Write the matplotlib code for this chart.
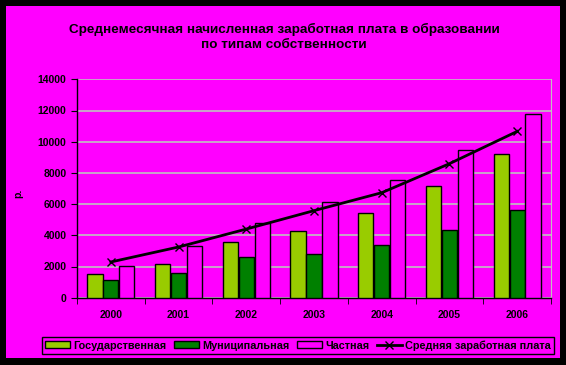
import numpy as np
import matplotlib.pyplot as plt
from matplotlib.patches import Rectangle

years = ["2000", "2001", "2002", "2003", "2004", "2005", "2006"]
gos = [1500, 2180, 3550, 4260, 5400, 7180, 9230]
mun = [1115, 1560, 2590, 2780, 3410, 4360, 5640]
chast = [2050, 3290, 4770, 6150, 7560, 9490, 11790]
srednyaya = [2290, 3250, 4400, 5580, 6730, 8590, 10660]

plt.rcParams["font.family"] = ["Liberation Sans", "DejaVu Sans"]
plt.rcParams["font.weight"] = "bold"

magenta = "#FF00FF"

fig = plt.figure(figsize=(5.66, 3.65), dpi=100)
fig.patch.set_facecolor("black")
fig.patches.append(Rectangle((6 / 566, 1 - 358 / 365), 554 / 566, 352 / 365,
                             transform=fig.transFigure, facecolor=magenta,
                             edgecolor="none", zorder=-10))

ax = fig.add_axes([77 / 566, 1 - 297.7 / 365, 474 / 566, 218.4 / 365])
ax.set_facecolor(magenta)

x = np.arange(len(years))
w = 0.225
b1 = ax.bar(x - w - 0.01, gos, w, color="#99CC00", edgecolor="black", linewidth=1,
            label="Государственная", zorder=3)
b2 = ax.bar(x, mun, w, color="#008000", edgecolor="black", linewidth=1,
            label="Муниципальная", zorder=3)
b3 = ax.bar(x + w + 0.01, chast, w, color=magenta, edgecolor="black", linewidth=1,
            label="Частная", zorder=3)
l1, = ax.plot(x, srednyaya, color="black", linewidth=2, marker="x",
              markersize=6, markeredgewidth=1, label="Средняя заработная плата", zorder=4)

ax.set_xlim(-0.5, len(years) - 0.5)
ax.set_ylim(0, 14000)
ax.set_yticks(range(0, 14001, 2000))
ax.set_xticks(x)
ax.set_xticklabels(years)
ax.set_xticks(np.arange(-0.5, len(years)), minor=True)
ax.tick_params(axis="x", which="major", length=0, pad=9, labelsize=7.5)
ax.tick_params(axis="x", which="minor", length=4, direction="out")
ax.tick_params(axis="y", length=4, direction="out", labelsize=7.5)
ax.yaxis.grid(True, color="#C0C0C0", linewidth=1.2, zorder=1)
ax.set_axisbelow(True)
ax.spines["top"].set_visible(False)
ax.spines["right"].set_color("#C0C0C0")
ax.spines["left"].set_linewidth(1)
ax.spines["bottom"].set_linewidth(1)

fig.text(18 / 566, 1 - 193 / 365, "р.", rotation=90, fontsize=7.5,
         ha="center", va="center")

fig.text(284 / 566, 1 - 29 / 365, "Среднемесячная начисленная заработная плата в образовании",
         ha="center", va="center", fontsize=9.7, fontweight="bold")
fig.text(284 / 566, 1 - 45 / 365, "по типам собственности",
         ha="center", va="center", fontsize=9.7, fontweight="bold")

leg = fig.legend([b1, b2, b3, l1],
                 ["Государственная", "Муниципальная", "Частная", "Средняя заработная плата"],
                 loc="center", bbox_to_anchor=(298 / 566, 1 - 345.5 / 365),
                 ncol=4, fontsize=7.8, frameon=True, fancybox=False,
                 edgecolor="black", facecolor=magenta, framealpha=1,
                 handlelength=2.3, handleheight=0.6, handletextpad=0.3,
                 columnspacing=0.7, borderpad=0.3, borderaxespad=0)
leg.get_frame().set_linewidth(1)

plt.savefig("out.png", dpi=100, facecolor=fig.get_facecolor())
